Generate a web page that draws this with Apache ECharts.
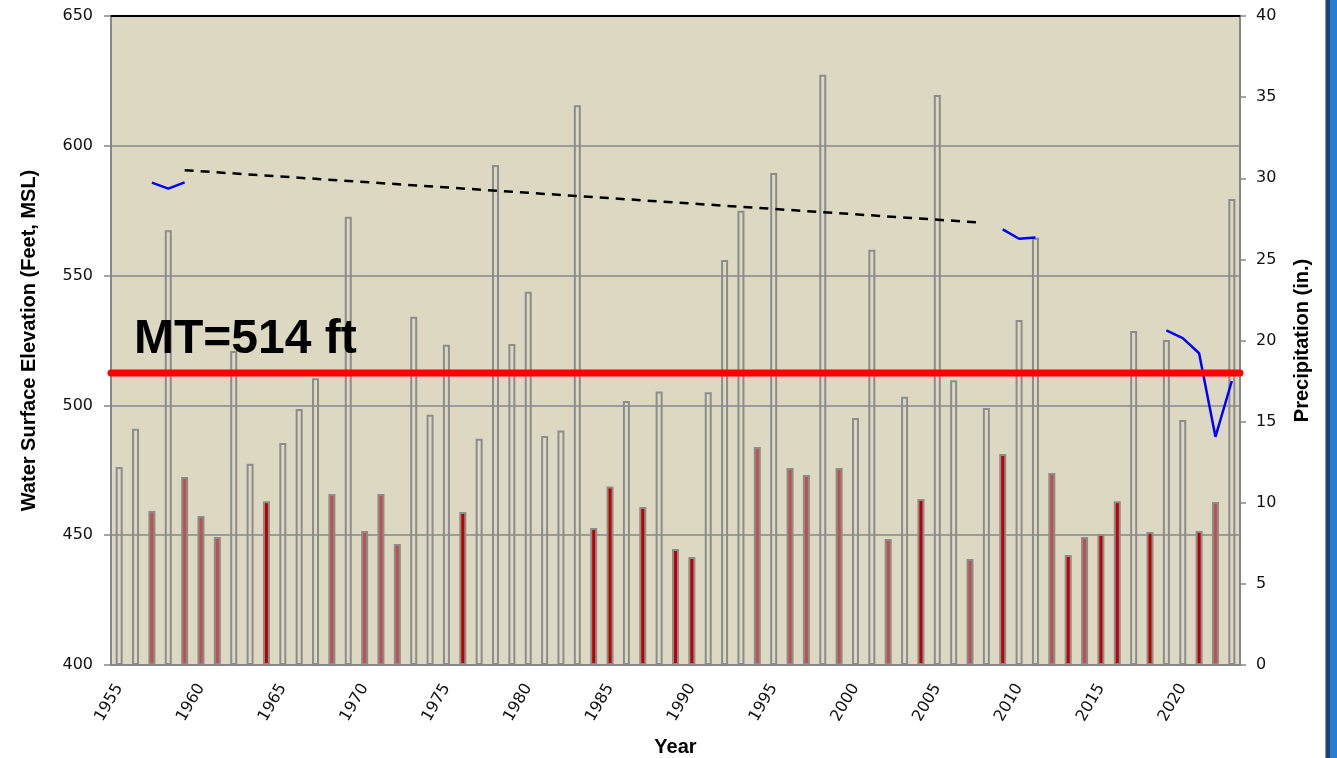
<!DOCTYPE html>
<html>
<head>
<meta charset="utf-8">
<script src="https://cdn.jsdelivr.net/npm/echarts@6/dist/echarts.min.js"></script>
<style>
  html, body { margin: 0; background: #fff; overflow: hidden; }
  #main { width: 1337px; height: 758px; }
</style>
</head>
<body>
<div id="main"></div>
<script>
// years on the x axis
const years = [];
for (let y = 1955; y <= 2023; y++) years.push(String(y));

// annual precipitation (in.)
const precip = [
  12.2, 14.56, 9.49, 26.8, 11.59, 9.18, 7.89, 19.35, 12.4, 10.1,
  13.68, 15.78, 17.67, 10.54, 27.63, 8.26, 10.54, 7.46, 21.47, 15.43,
  19.74, 9.43, 13.95, 30.82, 19.78, 23.0, 14.11, 14.46, 34.5, 8.44,
  11.0, 16.27, 9.74, 16.85, 7.15, 6.66, 16.81, 24.96, 28.0, 13.44,
  30.32, 12.14, 11.71, 36.38, 12.14, 15.22, 25.6, 7.77, 16.54, 10.23,
  35.13, 17.55, 6.53, 15.84, 13.0, 21.26, 26.34, 11.83, 6.78, 7.89,
  8.07, 10.1, 20.59, 8.2, 20.03, 15.1, 8.26, 10.05, 28.72
];
// bar class: o = open, l = light red, d = dark red
const barClass = [
  'o','o','l','o','l','l','l','o','o','d',
  'o','o','o','l','o','l','l','l','o','o',
  'o','d','o','o','o','o','o','o','o','d',
  'd','o','d','o','d','d','o','o','o','l',
  'o','l','l','o','l','o','o','l','o','d',
  'o','o','l','o','d','o','o','l','d','l',
  'd','d','o','d','o','o','d','l','o'
];

// water surface elevation (ft), null = break in the line
const levelYears = [1957, 1958, 1959, null, 2009, 2010, 2011, null, 2019, 2020, 2021, 2022, 2023];
const levelFeet = [585.8, 583.5, 585.9, null, 567.8, 564.2, 564.7, null, 528.9, 525.9, 520.1, 487.9, 509.4];

// dashed trend line end points
const trendYears = [1959, 2007.5];
const trendFeet = [590.6, 570.5];

// MT line
const mtYears = [1954.5, 2023.5];
const mtFeet = [512.5, 512.5];

const fillFor = { o: 'transparent', l: '#c0504d', d: '#c00000' };

const barData = precip.map((v, i) => ({
  value: v,
  itemStyle: { color: fillFor[barClass[i]] }
}));
const levelData = levelYears.map((y, i) => y === null ? ['-', '-'] : [y, levelFeet[i]]);
const trendData = trendYears.map((y, i) => [y, trendFeet[i]]);
const mtData = mtYears.map((y, i) => [y, mtFeet[i]]);

const gray = '#878787';
const labelFont = { fontFamily: 'DejaVu Sans', fontSize: 16, color: '#111' };
const nameFont = { fontFamily: 'Liberation Sans', fontWeight: 'bold', fontSize: 20, color: '#000' };

const chart = echarts.init(document.getElementById('main'));
chart.setOption({
  backgroundColor: '#fff',
  animation: false,
  grid: {
    left: 111, right: 97, top: 16, bottom: 93,
    outerBoundsMode: 'none',
    containLabel: false,
    show: true, backgroundColor: '#ddd8c2', borderWidth: 0
  },
  xAxis: [{
    type: 'category',
    data: years,
    boundaryGap: true,
    name: 'Year',
    nameLocation: 'middle',
    nameGap: 72,
    nameTextStyle: nameFont,
    axisLine: { lineStyle: { color: gray, width: 2 } },
    axisTick: { interval: 0, length: 6, lineStyle: { color: gray, width: 1.5 } },
    axisLabel: { interval: 4, rotate: 60, margin: 20, fontSize: 16, fontFamily: 'DejaVu Sans', color: '#111' },
    splitLine: { show: false }
  }, {
    type: 'value',
    position: 'top',
    min: 1954.5,
    max: 2023.5,
    axisLine: { show: true, lineStyle: { color: '#000', width: 2 } },
    axisTick: { show: false },
    axisLabel: { show: false },
    splitLine: { show: false }
  }],
  yAxis: [{
    type: 'value',
    min: 400, max: 650, interval: 50,
    name: 'Water Surface Elevation (Feet, MSL)',
    nameLocation: 'middle',
    nameGap: 72,
    nameTextStyle: nameFont,
    axisLine: { show: true, lineStyle: { color: gray, width: 2 } },
    axisTick: { show: true, length: 7, lineStyle: { color: gray, width: 1.5 } },
    axisLabel: Object.assign({ margin: 18 }, labelFont),
    splitLine: { lineStyle: { color: gray, width: 1.5 } }
  }, {
    type: 'value',
    min: 0, max: 40, interval: 5,
    position: 'right',
    name: 'Precipitation (in.)',
    nameLocation: 'middle',
    nameGap: 52,
    nameRotate: 90,
    nameTextStyle: nameFont,
    axisLine: { show: true, lineStyle: { color: gray, width: 2 } },
    axisTick: { show: true, length: 6, lineStyle: { color: gray, width: 1.5 } },
    axisLabel: Object.assign({ margin: 16 }, labelFont),
    splitLine: { show: false }
  }],
  series: [{
    type: 'bar',
    xAxisIndex: 0,
    yAxisIndex: 1,
    barWidth: 7,
    data: barData,
    itemStyle: { borderColor: '#8c8c8c', borderWidth: 2 }
  }, {
    type: 'line',
    xAxisIndex: 1,
    yAxisIndex: 0,
    data: trendData,
    showSymbol: false,
    lineStyle: { color: '#000', width: 2.5, type: [9, 7] },
    z: 3
  }, {
    type: 'line',
    xAxisIndex: 1,
    yAxisIndex: 0,
    data: levelData,
    connectNulls: false,
    showSymbol: false,
    lineStyle: { color: '#0000ff', width: 2.5 },
    z: 3
  }, {
    type: 'line',
    xAxisIndex: 1,
    yAxisIndex: 0,
    data: mtData,
    clip: false,
    showSymbol: false,
    lineStyle: { color: '#ff0000', width: 7, cap: 'round' },
    z: 4
  }],
  graphic: [{
    type: 'text',
    left: 134,
    top: 316,
    z: 10,
    style: {
      text: 'MT=514 ft',
      fill: '#000',
      font: 'bold 48px "Liberation Sans"'
    }
  }, {
    type: 'rect',
    shape: { x: 1325, y: 0, width: 1, height: 758 },
    style: { fill: '#9a9a9a' }
  }, {
    type: 'rect',
    shape: { x: 1326, y: 0, width: 4, height: 758 },
    style: { fill: '#1c4270' }
  }, {
    type: 'rect',
    shape: { x: 1330, y: 0, width: 7, height: 758 },
    style: { fill: '#2a7dd1' }
  }]
});
</script>
</body>
</html>
